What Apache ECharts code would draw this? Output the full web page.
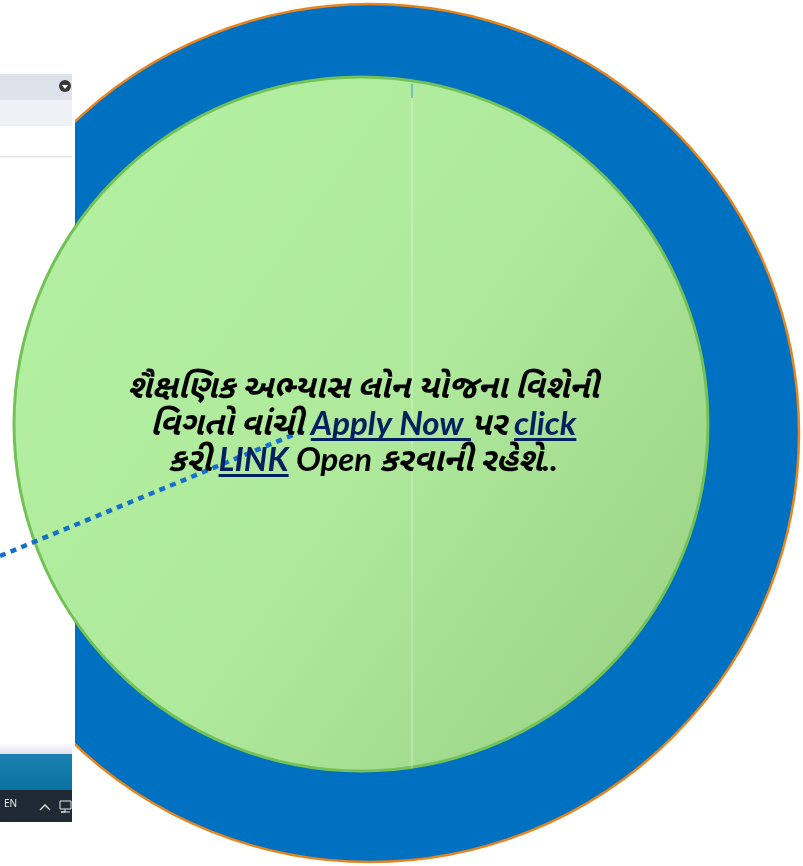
<!DOCTYPE html>
<html>
<head>
<meta charset="utf-8">
<script src="https://cdn.jsdelivr.net/npm/echarts@6/dist/echarts.min.js"></script>
<style>
html,body{margin:0;padding:0;background:#fff;}
#chart{width:803px;height:866px;}
</style>
</head>
<body>
<div id="chart"></div>
<script>
// ---- data ----
const outerRing = [{ name: 'outer', value: 1 }];
const innerDisc = [{ name: 'inner', value: 1 }];
const pointerX = [0, 305];
const pointerY = [556, 430];
const textLines = [
  [['શૈક્ષણિક અભ્યાસ લોન યોજના વિશેની', false]],
  [['વિગતો વાંચી ', false], ['Apply Now ', true], ['પર ', false], ['click', true]],
  [['કરી ', false], ['LINK', true], [' Open કરવાની રહેશે..', false]]
];

const FONT_FAMILY = "Lato, 'Noto Sans', 'Noto Sans Gujarati', sans-serif";
const FONT_SIZE = 33;
const fontStr = 'italic bold ' + FONT_SIZE + 'px ' + FONT_FAMILY;
const textCx = 363;
const lineY = [387, 424, 460];

const ctx = document.createElement('canvas').getContext('2d');
ctx.font = fontStr;

const textGraphics = [];
textLines.forEach(function (segs, li) {
  const widths = segs.map(s => ctx.measureText(s[0]).width);
  const total = widths.reduce((a, b) => a + b, 0);
  let x = textCx - total / 2;
  segs.forEach(function (s, si) {
    textGraphics.push({
      type: 'text', x: x, y: lineY[li], z: 100,
      style: {
        text: s[0], font: fontStr, fill: s[1] ? '#002060' : '#000000',
        align: 'left', verticalAlign: 'middle'
      }
    });
    if (s[1]) {
      textGraphics.push({
        type: 'rect', z: 100,
        shape: { x: x, y: lineY[li] + 14, width: widths[si], height: 3 },
        style: { fill: '#002060' }
      });
    }
    x += widths[si];
  });
});

// screenshot fragment on the left
const shot = [
  { type: 'rect', z: 5, shape: { x: 0, y: 74, width: 75, height: 748 }, style: { fill: '#ffffff' } },
  { type: 'rect', z: 6, shape: { x: 0, y: 74, width: 72, height: 26 }, style: { fill: '#dee2eb' } },
  { type: 'circle', z: 7, shape: { cx: 65, cy: 86, r: 6 }, style: { fill: '#3a3a3a' } },
  { type: 'polygon', z: 8, shape: { points: [[62, 85], [68, 85], [65, 89]] }, style: { fill: '#ffffff' } },
  { type: 'rect', z: 6, shape: { x: 0, y: 100, width: 72, height: 26 }, style: { fill: '#eef1f5' } },
  { type: 'rect', z: 6, shape: { x: 0, y: 156, width: 72, height: 1.5 }, style: { fill: '#e4e6ea' } },
  { type: 'rect', z: 6, shape: { x: 0, y: 743, width: 72, height: 12 },
    style: { fill: { type: 'linear', x: 0, y: 0, x2: 0, y2: 1, colorStops: [{ offset: 0, color: '#ffffff' }, { offset: 1, color: '#e2ddee' }] } } },
  { type: 'rect', z: 6, shape: { x: 0, y: 754, width: 72, height: 36 },
    style: { fill: { type: 'linear', x: 0, y: 0, x2: 0, y2: 1, colorStops: [{ offset: 0, color: '#1a82ae' }, { offset: 1, color: '#0a72a2' }] } } },
  { type: 'rect', z: 6, shape: { x: 0, y: 790, width: 72, height: 32 }, style: { fill: '#1f2933' } },
  { type: 'text', z: 7, x: 4, y: 804, style: { text: 'EN', font: '10px "Noto Sans", sans-serif', fill: '#e8e8e8', verticalAlign: 'middle' } },
  { type: 'polyline', z: 7, shape: { points: [[40, 810], [45, 805], [50, 810]] }, style: { stroke: '#e8e8e8', lineWidth: 1.3, fill: null } },
  { type: 'rect', z: 7, shape: { x: 60, y: 801, width: 11, height: 8 }, style: { stroke: '#e8e8e8', lineWidth: 1, fill: null } },
  { type: 'polyline', z: 7, shape: { points: [[65, 809], [65, 812], [61, 812], [70, 812]] }, style: { stroke: '#e8e8e8', lineWidth: 1, fill: null } }
];

const seam = [
  { type: 'rect', z: 60, shape: { x: 411.5, y: 86, width: 1, height: 682 }, style: { fill: 'rgba(235,250,230,0.55)' } },
  { type: 'rect', z: 60, shape: { x: 411.5, y: 84, width: 1, height: 14 }, style: { fill: '#3a8fd6' } }
];

const chart = echarts.init(document.getElementById('chart'), null, { renderer: 'canvas' });
chart.setOption({
  backgroundColor: '#ffffff',
  animation: false,
  grid: { left: 0, right: 0, top: 0, bottom: 0 },
  xAxis: { type: 'value', min: 0, max: 803, show: false },
  yAxis: { type: 'value', min: 0, max: 866, inverse: true, show: false },
  graphic: shot.concat(seam, textGraphics),
  series: [
    {
      type: 'pie', z: 1, silent: true, center: [370, 433], radius: [0, 429],
      label: { show: false }, labelLine: { show: false },
      itemStyle: { color: '#0070c0', borderColor: '#e8841e', borderWidth: 2.5 },
      data: outerRing
    },
    {
      type: 'pie', z: 50, zlevel: 0, silent: true, center: [361, 424], radius: [0, 347],
      label: { show: false }, labelLine: { show: false },
      itemStyle: {
        color: { type: 'linear', x: 0, y: 0.2, x2: 1, y2: 0.9,
          colorStops: [{ offset: 0, color: '#b4f0a2' }, { offset: 0.5, color: '#aee99c' }, { offset: 1, color: '#9cd285' }] },
        borderColor: '#74c257', borderWidth: 3
      },
      data: innerDisc
    },
    {
      type: 'line', z: 90, silent: true, symbol: 'none',
      data: pointerX.map((x, i) => [x, pointerY[i]]),
      lineStyle: { color: '#1470c8', width: 4.5, type: [6, 5.5], cap: 'butt' }
    }
  ]
});
</script>
</body>
</html>
